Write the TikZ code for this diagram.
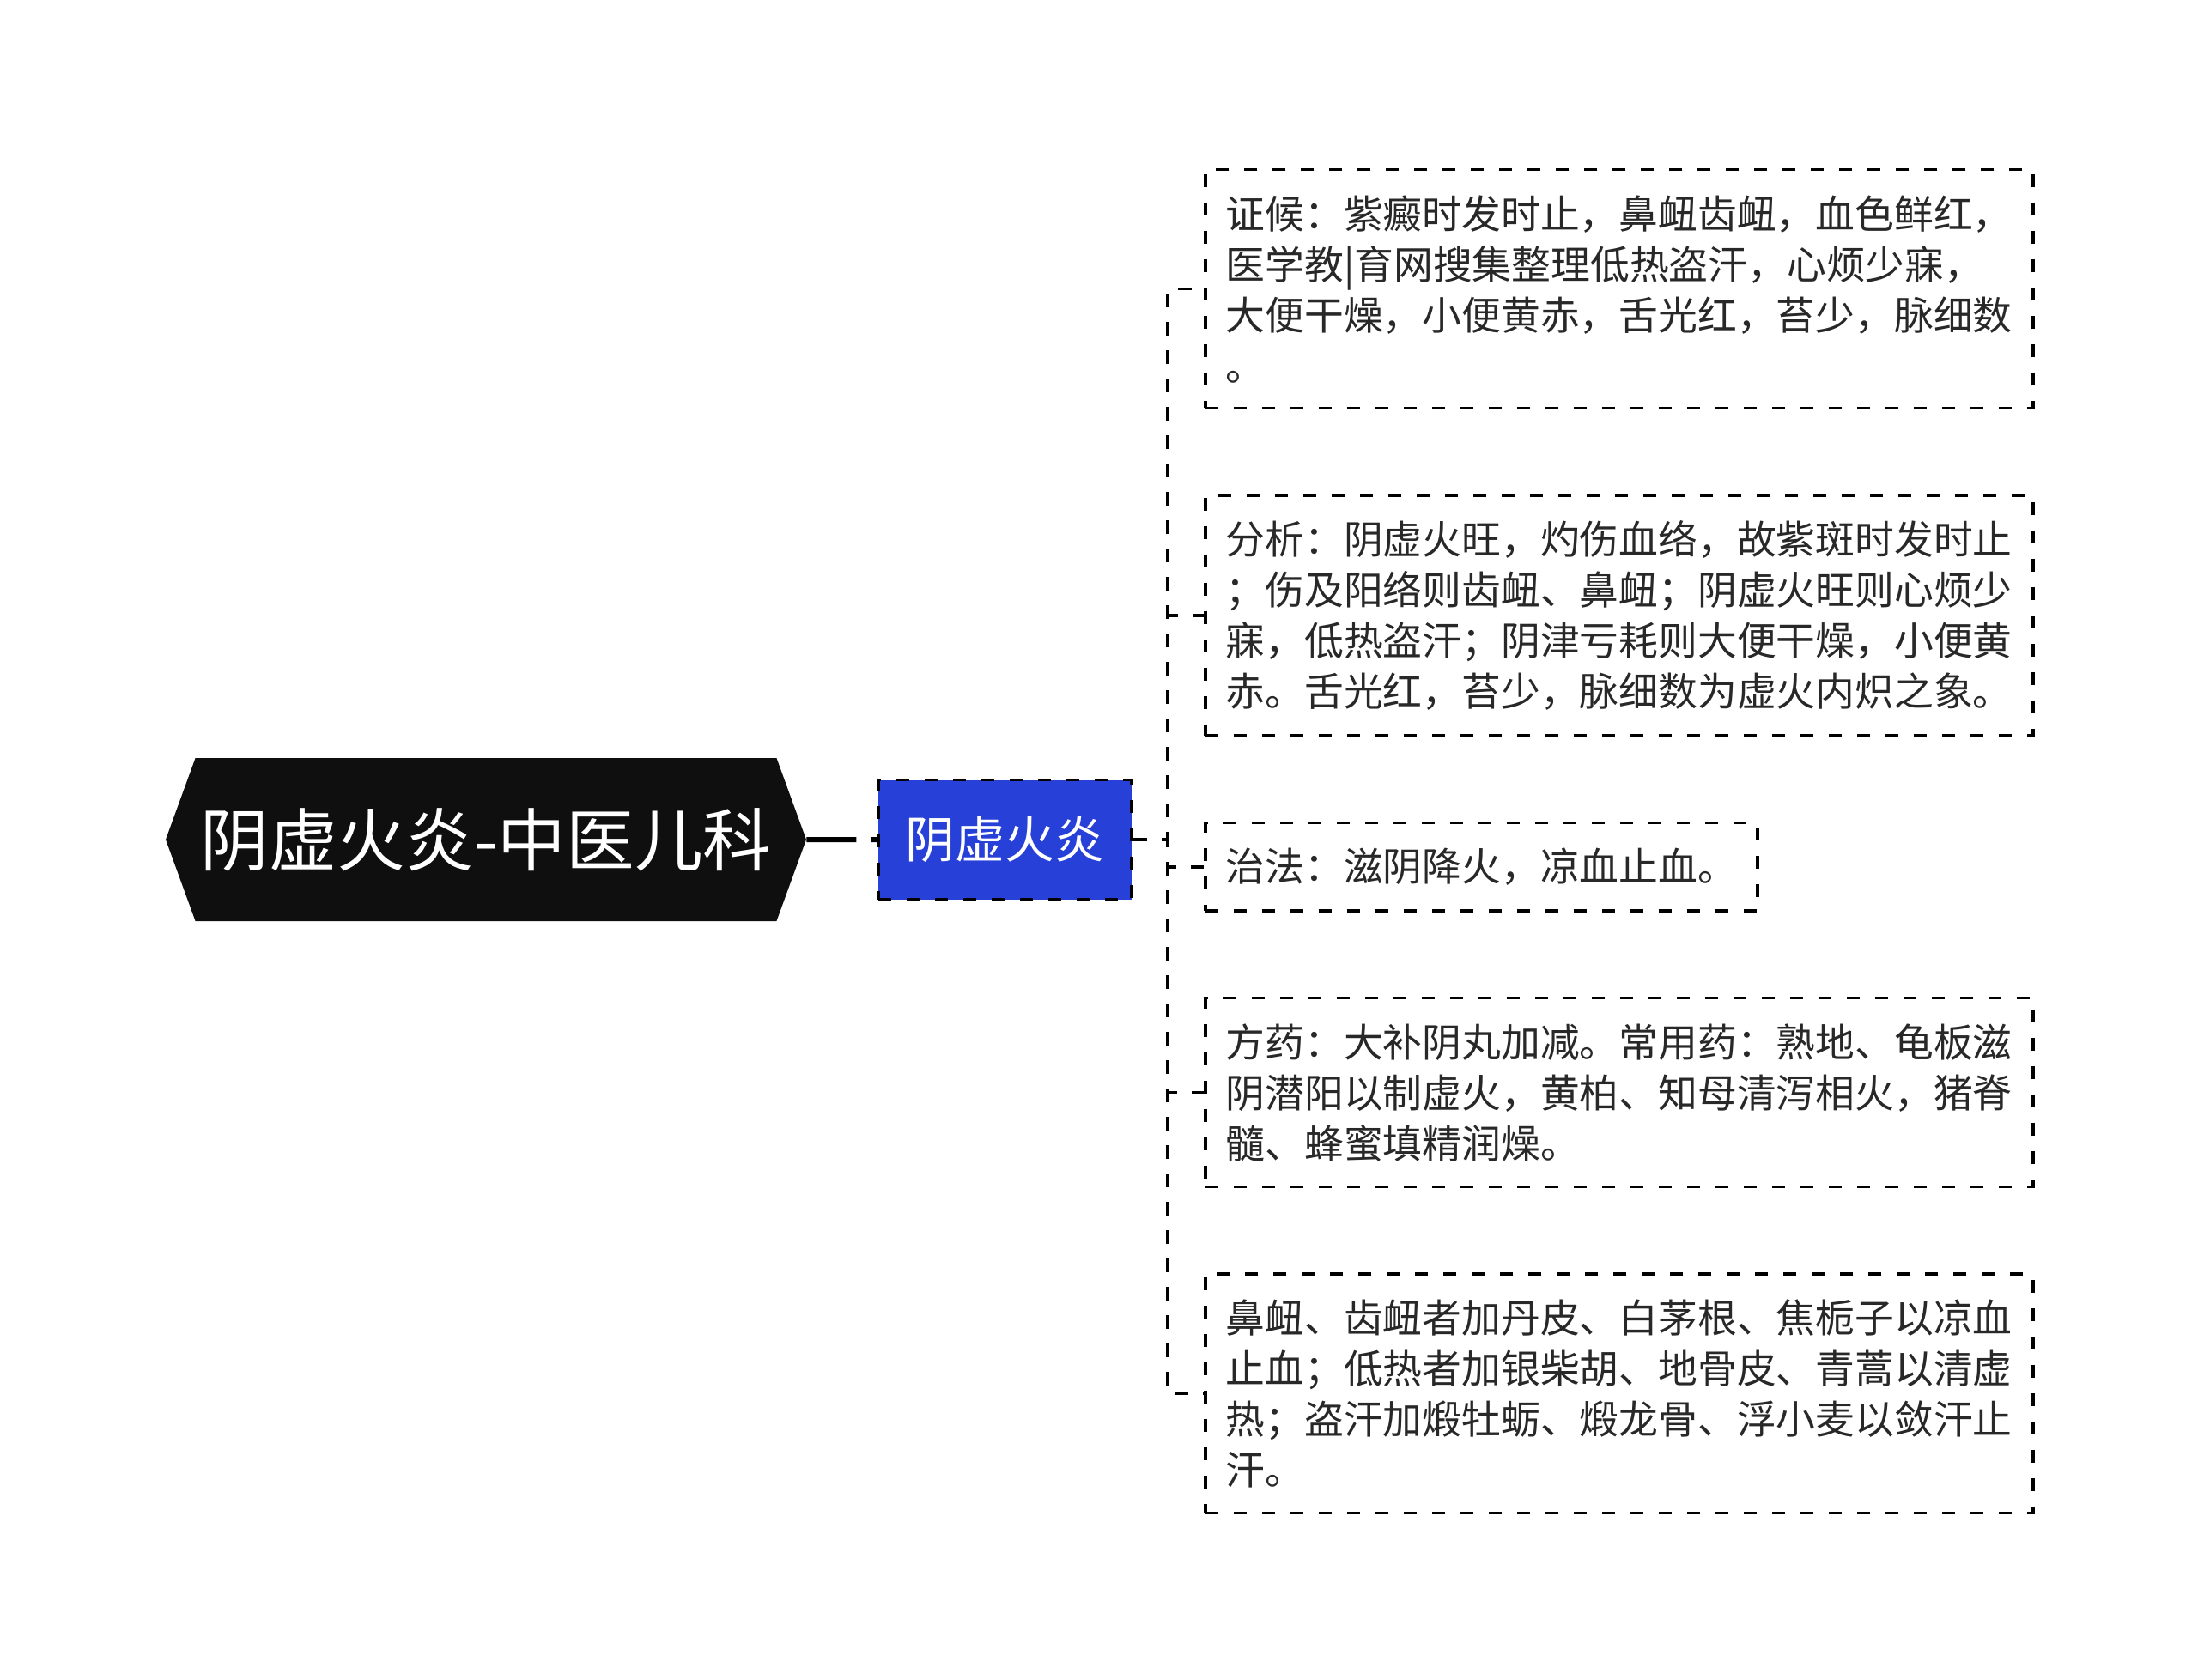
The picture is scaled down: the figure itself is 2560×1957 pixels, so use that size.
\documentclass[tikz,border=0pt]{standalone}
\usepackage{fontspec}
\setmainfont{Noto Sans CJK SC}
\usetikzlibrary{positioning,shapes.symbols}
\definecolor{lanse}{RGB}{38,64,216}
\definecolor{wenzi}{RGB}{40,40,40}
\tikzset{
    %Define style for the title
    wurzel/.style={
           shape=signal,
           signal to=west and east,
           signal pointer angle=140,
           fill=black!94,
           text=white,
           inner sep=0pt,
           minimum width=373pt,
           minimum height=95pt,
           font=\fontsize{39.8pt}{47pt}\selectfont},
    %Define style for the branch
    zweig/.style={
           rectangle,
           draw=black,
           fill=lanse,
           line width=1.75pt,
           dash pattern=on 7.5pt off 9pt,
           text=white,
           minimum width=147.5pt,
           minimum height=69.5pt,
           font=\fontsize{29pt}{35pt}\selectfont},
    %Define style for boxes
    blatt/.style={
           rectangle,
           draw=black,
           line width=1.75pt,
           dash pattern=on 7.5pt off 9pt,
           text=wenzi,
           align=left,
           inner xsep=12pt,
           inner ysep=14.8pt,
           font=\fontsize{22.9pt}{29.5pt}\selectfont},
    % Define line styles
    stiel/.style={
           line width=3pt,
           dash pattern=on 29pt off 8.5pt},
    linie/.style={
           line width=1.75pt,
           dash pattern=on 8pt off 8.5pt}
}
\begin{document}
\begin{tikzpicture}[x=0.5pt,y=-0.5pt,node distance=41pt]
  \useasboundingbox (0,0) rectangle (2560,1957);
  \node[wurzel] (yinxu) at (566,978) {阴虚火炎-中医儿科};
  \node[zweig,right=of yinxu] (huoyan) {阴虚火炎};
  \draw[stiel] (yinxu) -- (huoyan);
  \coordinate (stamm) at (1360,978);
  \node[blatt,anchor=north west] (zhenghou) at (1402,196)
    {证候：紫癜时发时止，鼻衄齿衄，血色鲜红，\\
     医学教|育网搜集整理低热盗汗，心烦少寐，\\
     大便干燥，小便黄赤，舌光红，苔少，脉细数\\
     。};
  \node[blatt,below=49pt of zhenghou.south west,anchor=north west] (fenxi)
    {分析：阴虚火旺，灼伤血络，故紫斑时发时止\\
     ；伤及阳络则齿衄、鼻衄；阴虚火旺则心烦少\\
     寐，低热盗汗；阴津亏耗则大便干燥，小便黄\\
     赤。舌光红，苔少，脉细数为虚火内炽之象。};
  \node[blatt,below=49pt of fenxi.south west,anchor=north west] (zhifa)
    {治法：滋阴降火，凉血止血。};
  \node[blatt,below=49pt of zhifa.south west,anchor=north west] (fangyao)
    {方药：大补阴丸加减。常用药：熟地、龟板滋\\
     阴潜阳以制虚火，黄柏、知母清泻相火，猪脊\\
     髓、蜂蜜填精润燥。};
  \node[blatt,below=49pt of fangyao.south west,anchor=north west] (jiajian)
    {鼻衄、齿衄者加丹皮、白茅根、焦栀子以凉血\\
     止血；低热者加银柴胡、地骨皮、青蒿以清虚\\
     热；盗汗加煅牡蛎、煅龙骨、浮小麦以敛汗止\\
     汗。};
  \foreach \n in {zhenghou,fenxi,zhifa,fangyao,jiajian}
    \draw[linie] (huoyan.east) -- (stamm) |- (\n.west);
\end{tikzpicture}
\end{document}
